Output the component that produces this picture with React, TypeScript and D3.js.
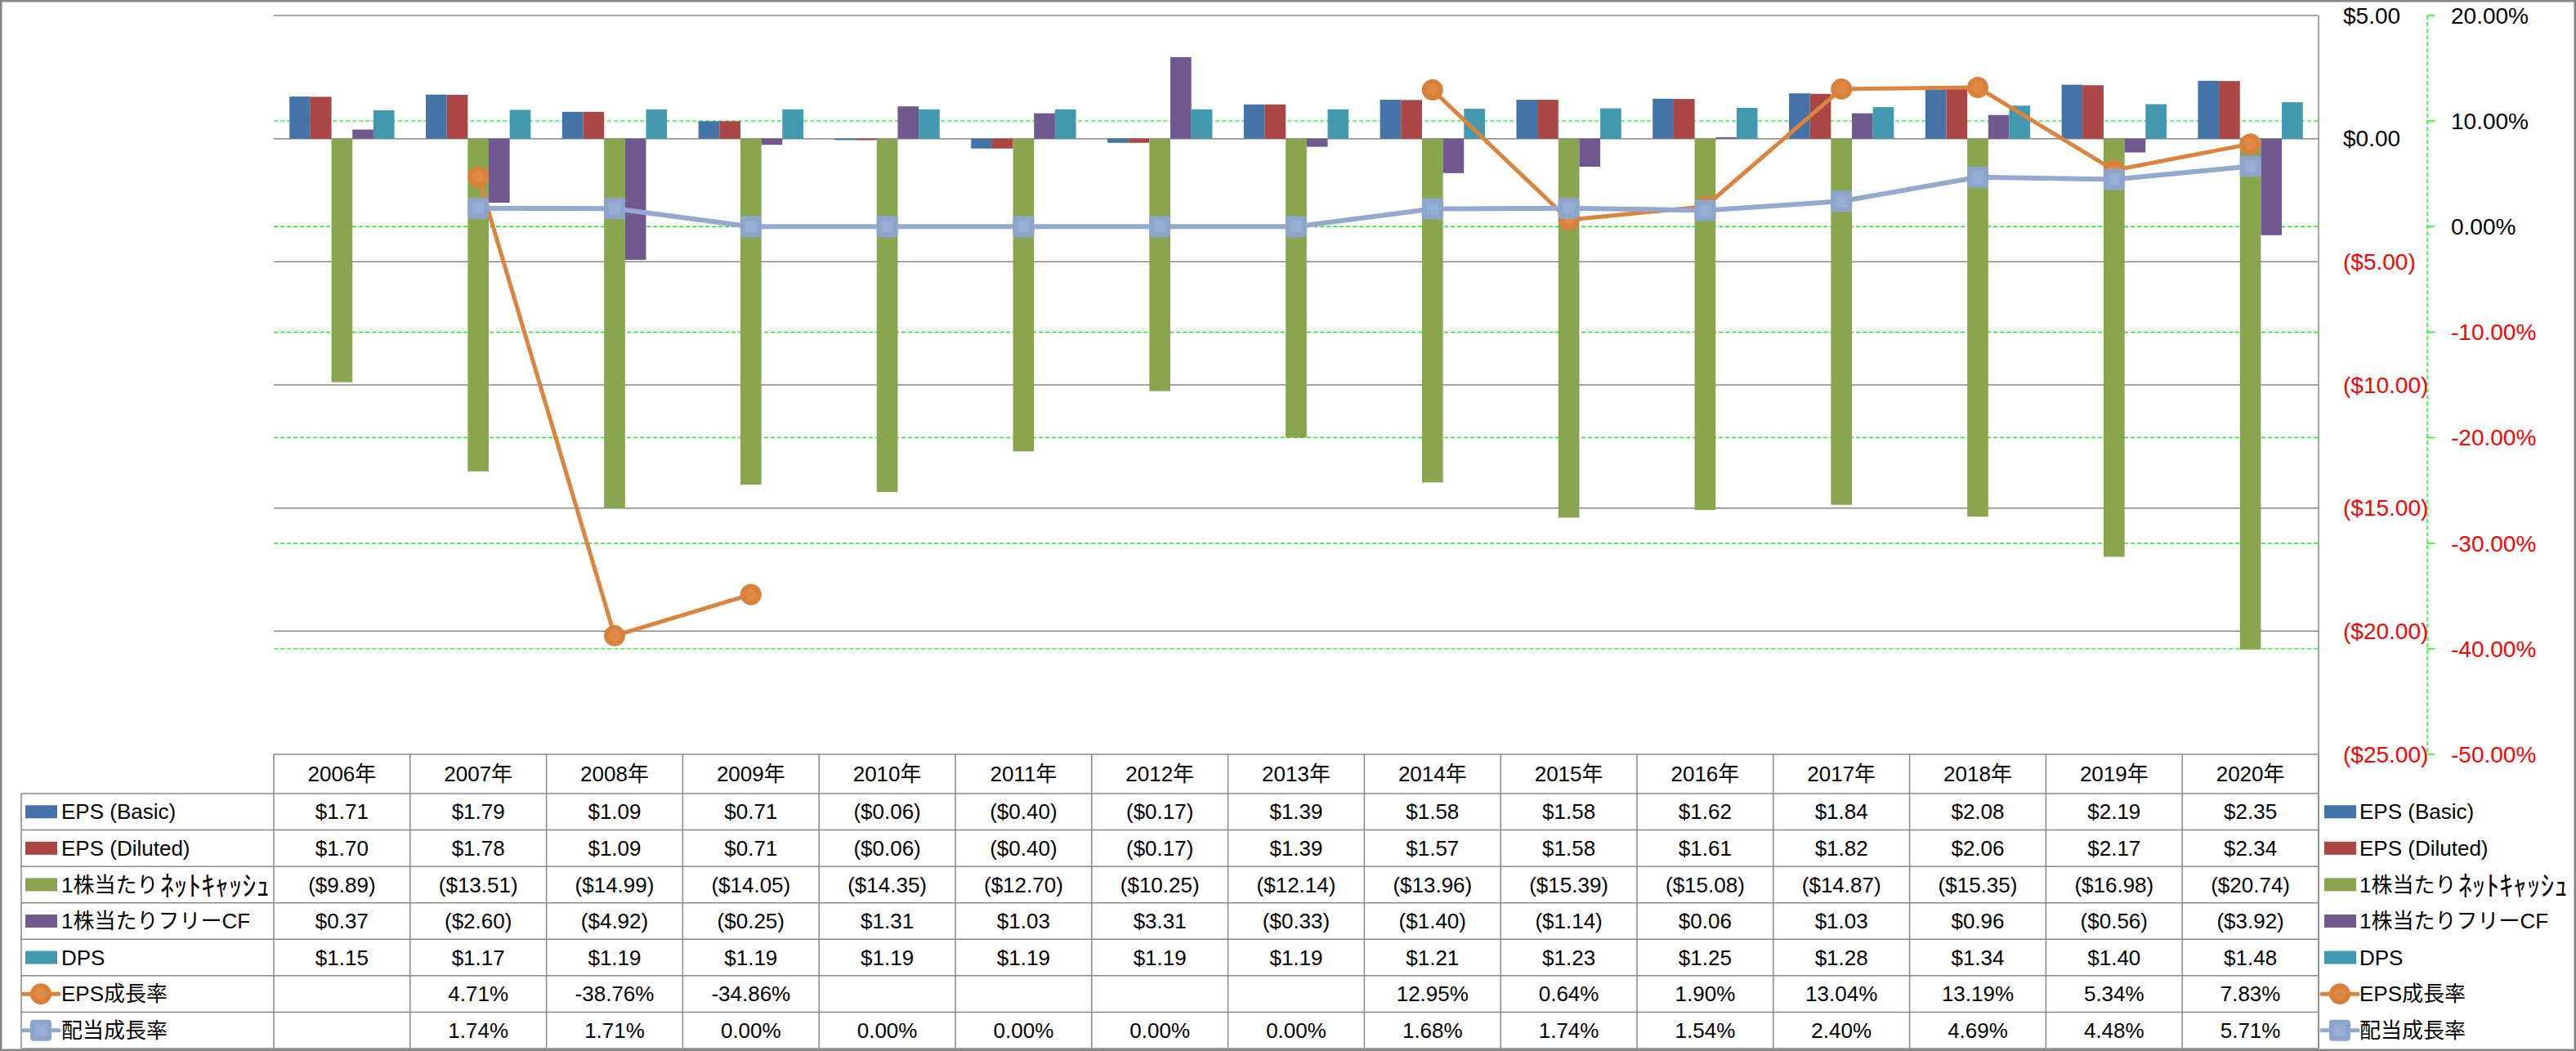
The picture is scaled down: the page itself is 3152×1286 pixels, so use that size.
import React from "react";
import * as d3 from "d3";

const years = ["2006年","2007年","2008年","2009年","2010年","2011年","2012年","2013年","2014年","2015年","2016年","2017年","2018年","2019年","2020年"];
const epsBasic = [1.71,1.79,1.09,0.71,-0.06,-0.40,-0.17,1.39,1.58,1.58,1.62,1.84,2.08,2.19,2.35];
const epsDiluted = [1.70,1.78,1.09,0.71,-0.06,-0.40,-0.17,1.39,1.57,1.58,1.61,1.82,2.06,2.17,2.34];
const netCash = [-9.89,-13.51,-14.99,-14.05,-14.35,-12.70,-10.25,-12.14,-13.96,-15.39,-15.08,-14.87,-15.35,-16.98,-20.74];
const freeCF = [0.37,-2.60,-4.92,-0.25,1.31,1.03,3.31,-0.33,-1.40,-1.14,0.06,1.03,0.96,-0.56,-3.92];
const dps = [1.15,1.17,1.19,1.19,1.19,1.19,1.19,1.19,1.21,1.23,1.25,1.28,1.34,1.40,1.48];
const epsGrowth: (number|null)[] = [null,4.71,-38.76,-34.86,null,null,null,null,12.95,0.64,1.90,13.04,13.19,5.34,7.83];
const divGrowth: (number|null)[] = [null,1.74,1.71,0.00,0.00,0.00,0.00,0.00,1.68,1.74,1.54,2.40,4.69,4.48,5.71];

const barSeries = [
  { name: "EPS (Basic)", values: epsBasic, color: "#4572A7" },
  { name: "EPS (Diluted)", values: epsDiluted, color: "#AA4643" },
  { name: "1株当たりﾈｯﾄｷｬｯｼｭ", values: netCash, color: "#89A54E" },
  { name: "1株当たりフリーCF", values: freeCF, color: "#71588F" },
  { name: "DPS", values: dps, color: "#4198AF" },
];
const lineSeries = [
  { name: "EPS成長率", values: epsGrowth, color: "#DB843D", marker: "circle" },
  { name: "配当成長率", values: divGrowth, color: "#93A9CF", marker: "square" },
];
const primaryTicks = [5,0,-5,-10,-15,-20,-25];
const secondaryTicks = [20,10,0,-10,-20,-30,-40,-50];

const W = 3152, H = 1286;
const plotL = 335, plotR = 2837, plotT = 19, plotB = 923;
const headerB = 971, tableB = 1283;
const legendL = 26;
const FONT = "'Liberation Sans', 'Noto Sans CJK JP', sans-serif";
const FS = 26;

const fmtMoney = (v: number) => v < 0 ? `($${Math.abs(v).toFixed(2)})` : `$${v.toFixed(2)}`;
const fmtPct = (v: number | null) => v == null ? "" : `${v.toFixed(2)}%`;

function Marker({ type, cx, cy }: { type: string; cx: number; cy: number }) {
  if (type === "circle") {
    return (
      <g>
        <circle cx={cx} cy={cy} r={13} fill="#D9813A" />
        <circle cx={cx} cy={cy} r={7} fill="#DE8A47" />
      </g>
    );
  }
  return (
    <g>
      <rect x={cx - 13} y={cy - 13} width={26} height={26} rx={4} fill="#8DA5CD" />
      <rect x={cx - 7} y={cy - 7} width={14} height={14} fill="#97ADD3" />
    </g>
  );
}

// Renders a legend name; half-width katakana runs are drawn narrow but full height
function LegendName({ name, x, y }: { name: string; x: number; y: number }) {
  const m = name.match(/^([^\uFF61-\uFF9F]*)([\uFF61-\uFF9F]+)$/);
  if (!m) return <text x={x} y={y} dy="0.35em" fontSize={FS}>{name}</text>;
  return (
    <g>
      <text x={x} y={y} dy="0.35em" fontSize={FS}>{m[1]}</text>
      <text x={x + 121} y={y + 2} dy="0.35em" fontSize={34} textLength={134} lengthAdjust="spacingAndGlyphs">{m[2]}</text>
    </g>
  );
}

export default function App() {
  const x = d3.scaleBand<string>().domain(years).range([plotL, plotR]).padding(0);
  const band = x.bandwidth();
  const bw = band / 6.5;
  const y = d3.scaleLinear().domain([-25, 5]).range([plotB, plotT]);
  const y2 = d3.scaleLinear().domain([-50, 20]).range([plotB, plotT]);
  const cx = (i: number) => (x(years[i]) as number) + band / 2;
  const rowH = (tableB - headerB) / 7;
  const rowTop = (i: number) => headerB + i * rowH;

  const tableRows = [
    ...barSeries.map((s) => ({ name: s.name, color: s.color, kind: "bar", marker: "", texts: s.values.map(fmtMoney) })),
    ...lineSeries.map((s) => ({ name: s.name, color: s.color, kind: "line", marker: s.marker, texts: s.values.map(fmtPct) })),
  ];

  const legendKey = (r: any, lx: number, cyy: number) =>
    r.kind === "bar" ? (
      <rect x={lx} y={cyy - 8} width={39} height={16} fill={r.color} />
    ) : (
      <g>
        <line x1={lx - 3} x2={lx + 41} y1={cyy} y2={cyy} stroke={r.color} strokeWidth={5} strokeLinecap="round" />
        <Marker type={r.marker} cx={lx + 19} cy={cyy} />
      </g>
    );

  return (
    <svg width={W} height={H} style={{ position: "absolute", left: 0, top: 0, display: "block", background: "#fff" }} fontFamily={FONT}>
      <rect x={0} y={0} width={W} height={H} fill="#fff" />
      {secondaryTicks.filter((t) => t !== 20 && t !== -50).map((t) => (
        <line key={"g2" + t} x1={plotL} x2={plotR} y1={y2(t)} y2={y2(t)} stroke="#00FF00" strokeWidth={1.4} strokeDasharray="5,3" />
      ))}
      {primaryTicks.map((t) => (
        <line key={"g1" + t} x1={plotL} x2={plotR} y1={y(t)} y2={y(t)} stroke="#888" strokeWidth={1.5} />
      ))}
      {barSeries.map((s, si) => (
        <g key={s.name}>
          {s.values.map((v, i) => {
            const bx = (x(years[i]) as number) + (band - 5 * bw) / 2 + si * bw;
            const y0 = y(0), yv = y(v);
            return <rect key={i} x={bx} y={Math.min(y0, yv)} width={bw} height={Math.abs(yv - y0)} fill={s.color} />;
          })}
        </g>
      ))}
      {lineSeries.map((s) => {
        const line = d3.line<number | null>()
          .defined((d) => d != null)
          .x((_, i) => cx(i))
          .y((d) => y2(d as number));
        return (
          <g key={s.name}>
            <path d={line(s.values) || ""} fill="none" stroke={s.color} strokeWidth={s.marker === "circle" ? 5 : 6} strokeLinejoin="round" />
            {s.values.map((v, i) => v == null ? null : <Marker key={i} type={s.marker} cx={cx(i)} cy={y2(v)} />)}
          </g>
        );
      })}
      <line x1={plotR} x2={plotR} y1={plotT} y2={tableB} stroke="#888" strokeWidth={1.5} />
      {primaryTicks.map((t) => (
        <text key={"p" + t} x={2867} y={y(t)} dy="0.35em" fontSize={FS + 2} fill={t < 0 ? "#FF0000" : "#000"}>{fmtMoney(t)}</text>
      ))}
      <line x1={2970} x2={2970} y1={plotT} y2={plotB} stroke="#00FF00" strokeWidth={1.4} strokeDasharray="5,3" />
      {secondaryTicks.map((t) => (
        <g key={"s" + t}>
          <line x1={2970} x2={2979} y1={y2(t)} y2={y2(t)} stroke="#00FF00" strokeWidth={1.4} />
          <text x={2999} y={y2(t)} dy="0.35em" fontSize={FS + 2} fill={t < 0 ? "#FF0000" : "#000"}>{`${t.toFixed(2)}%`}</text>
        </g>
      ))}
      {d3.range(16).map((k) => (
        <line key={"tv" + k} x1={plotL + k * band} x2={plotL + k * band} y1={plotB} y2={tableB} stroke="#888" strokeWidth={1.5} />
      ))}
      <line x1={legendL} x2={legendL} y1={headerB} y2={tableB} stroke="#888" strokeWidth={1.5} />
      {d3.range(8).map((i) => (
        <line key={"th" + i} x1={legendL} x2={plotR} y1={rowTop(i)} y2={rowTop(i)} stroke="#888" strokeWidth={1.5} />
      ))}
      {years.map((yr, i) => (
        <text key={yr} x={cx(i)} y={(plotB + headerB) / 2} dy="0.35em" textAnchor="middle" fontSize={FS}>{yr}</text>
      ))}
      {tableRows.map((r, ri) => {
        const cyy = rowTop(ri) + rowH / 2;
        return (
          <g key={r.name}>
            {legendKey(r, 31, cyy)}
            <LegendName name={r.name} x={75} y={cyy} />
            {r.texts.map((t, i) => (
              <text key={i} x={cx(i)} y={cyy} dy="0.35em" textAnchor="middle" fontSize={FS}>{t}</text>
            ))}
            {legendKey(r, 2844, cyy)}
            <LegendName name={r.name} x={2887} y={cyy} />
          </g>
        );
      })}
      <rect x={1.25} y={1.25} width={W - 2.5} height={H - 2.5} fill="none" stroke="#868686" strokeWidth={2.5} />
    </svg>
  );
}
